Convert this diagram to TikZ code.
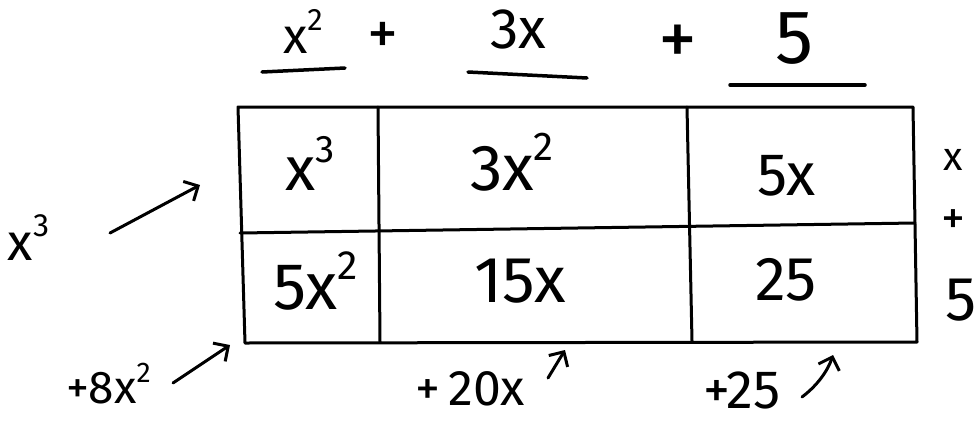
\documentclass[tikz,border=0pt]{standalone}
\usepackage{fontspec}
\usepackage{graphicx}
\setmainfont{Fira Sans}
\usetikzlibrary{arrows.meta}
\newcommand\pw[1]{\raisebox{0.45em}{\scalebox{0.62}{#1}}}
\newcommand\fs[1]{\fontsize{#1}{#1}\selectfont}
\begin{document}
\begin{tikzpicture}[x=1pt,y=-1pt,line cap=round,line join=round,
  gridline/.style={line width=3pt,black},
  uline/.style={line width=3.5pt,black},
  arr/.style={line width=3pt,-{Straight Barb[length=11pt,width=22pt,line width=3pt]}},
  lbl/.style={inner sep=0pt,outer sep=0pt,anchor=base west,text=black},
  ctr/.style={inner sep=0pt,outer sep=0pt,anchor=center,text=black}]
\useasboundingbox[fill=white] (0,0) rectangle (975,421);

% top factor
\node[lbl,font=\fs{50}] (tx2) at (283,53) {x\pw{2}};
\node[ctr,font=\fs{62}] (tp1) at (383,38) {+};
\node[lbl,font=\fs{57}] (t3x) at (490,48) {3x};
\node[ctr,font=\fs{78}] (tp2) at (678,45) {+};
\node[lbl,font=\fs{76}] (t5) at (775,63) {5};
\coordinate (u1a) at (262,72); \coordinate (u1b) at (345,68);
\coordinate (u2a) at (468,72); \coordinate (u2b) at (587,78);
\coordinate (u3a) at (730,85); \coordinate (u3b) at (865,85);
\draw[uline] (u1a) -- (u1b);
\draw[uline] (u2a) -- (u2b);
\draw[uline] (u3a) -- (u3b);

% table
\coordinate (TL) at (238,107); \coordinate (TR) at (913,107);
\coordinate (BR) at (917,342); \coordinate (BL) at (245,343);
\coordinate (ML) at (240,233); \coordinate (MR) at (915,223);
\coordinate (V1t) at (378,107); \coordinate (V1b) at (380,342);
\coordinate (V2t) at (687,107); \coordinate (V2b) at (692,341);
\draw[gridline] (TL) -- (TR) -- (BR) -- (BL) -- cycle;
\draw[gridline] (ML) -- (MR);
\draw[gridline] (V1t) -- (V1b);
\draw[gridline] (V2t) -- (V2b);

% cells
\node[lbl,font=\fs{62}] (c11) at (285,190) {x\pw{3}};
\node[lbl,font=\fs{65}] (c12) at (470,190) {3x\pw{2}};
\node[lbl,font=\fs{60}] (c13) at (757,195) {5x};
\node[lbl,font=\fs{66}] (c21) at (273,309) {5x\pw{2}};
\node[lbl,font=\fs{65}] (c22) at (474,302) {15x};
\node[lbl,font=\fs{62}] (c23) at (755,300) {25};

% right factor
\node[lbl,font=\fs{40}] (rx) at (943,170) {x};
\node[ctr,font=\fs{48}] (rp) at (953,222) {+};
\node[lbl,font=\fs{62}] (r5) at (945,320) {5};

% left note
\node[lbl,font=\fs{52}] (lx3) at (8,260) {x\pw{3}};
\coordinate (a1s) at (110,233); \coordinate (a1e) at (200,185);
\draw[arr] (a1s) -- (a1e);

% bottom notes
\node[lbl,font=\fs{46}] (b1) at (66,403) {+8x\pw{2}};
\coordinate (a2s) at (173,383); \coordinate (a2e) at (230,345);
\draw[arr] (a2s) -- (a2e);

\node[lbl,font=\fs{50}] (b2) at (415,405) {+\,20x};
\coordinate (a3s) at (548,378); \coordinate (a3e) at (565,350);
\draw[arr] (a3s) -- (a3e);

\node[lbl,font=\fs{54}] (b3) at (703,408) {+25};
\coordinate (a4s) at (802,397); \coordinate (a4e) at (833,355);
\draw[arr] (a4s) .. controls (818,385) and (828,370) .. (a4e);
\end{tikzpicture}
\end{document}
